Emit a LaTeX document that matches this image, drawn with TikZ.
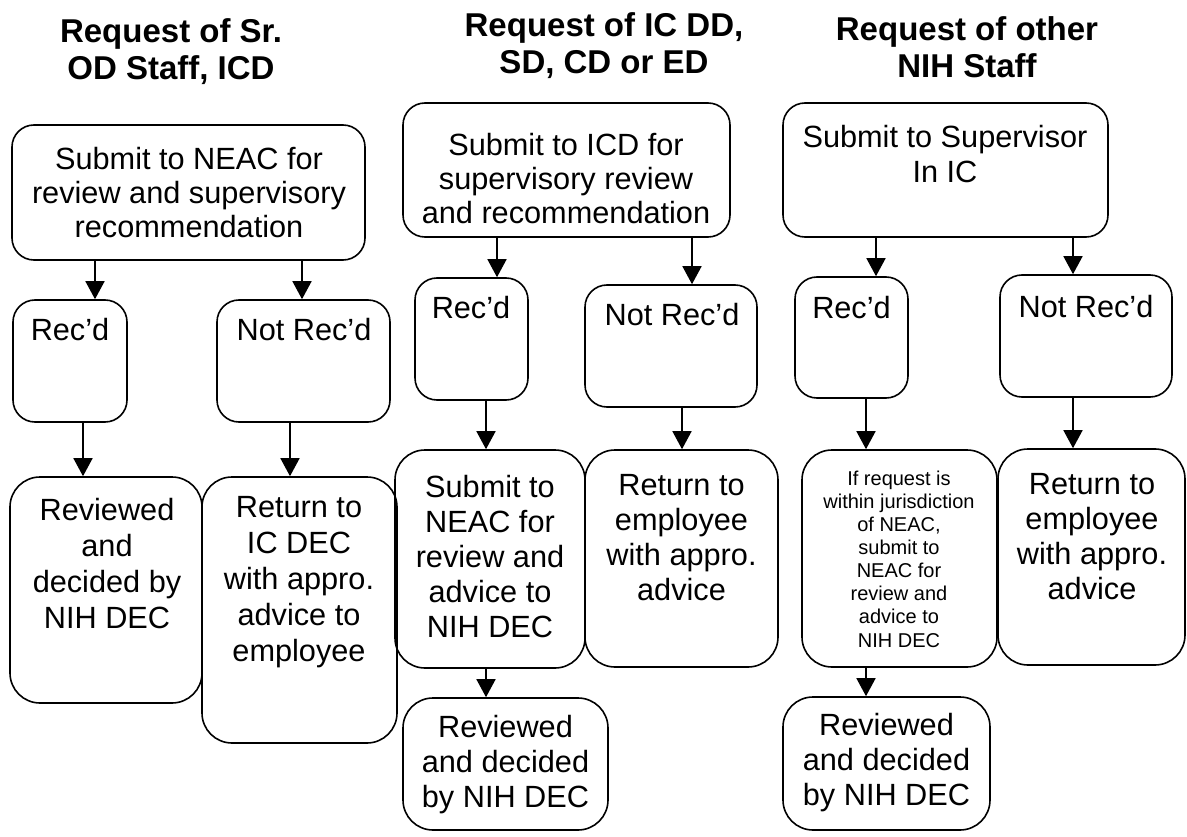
\documentclass[tikz,border=0pt]{standalone}
\usepackage{fontspec}
\setmainfont{Liberation Sans}
\usetikzlibrary{arrows.meta}
\newcommand{\mybox}[6][22]{\node[box, rounded corners=#1pt, minimum width={(#5-#3)*1pt}, minimum height={(#6-#4)*1pt}] (#2) at ({(#3+#5)/2},{(#4+#6)/2}) {};}
\begin{document}
\begin{tikzpicture}[x=1pt,y=-1pt,
  box/.style={draw, line width=1.6pt, inner sep=0pt, rectangle},
  txt/.style={align=center, inner sep=0pt, font=\fontsize{30.7}{35}\selectfont},
  txtb/.style={align=center, inner sep=0pt, font=\fontsize{30.7}{36}\selectfont},
  txtt/.style={align=center, inner sep=0pt, font=\fontsize{30.7}{34}\selectfont},
  small/.style={align=center, inner sep=0pt, font=\fontsize{20}{23.1}\selectfont},
  head/.style={align=center, inner sep=0pt, font=\bfseries\fontsize{33}{37}\selectfont},
  arr/.style={line width=1.6pt, -{Triangle[width=19pt,length=18pt]}}]
\useasboundingbox (0,0) rectangle (1187,837);

% headers
\node[head] (H1) at (171,51.5) {Request of Sr.\\OD Staff, ICD};
\node[head] (H2) at (604,45.5) {Request of IC DD,\\SD, CD or ED};
\node[head] (H3) at (967,47.5) {Request of other\\NIH Staff};

% column 1
\mybox{T1}{12}{125}{365}{260}
\mybox{R1}{13}{300}{127}{422}
\mybox{N1}{217}{300}{390}{422}
\mybox[30]{V1}{10}{477}{202}{703}
\mybox[30]{E1}{202}{477}{397}{743}

% column 2
\mybox{T2}{403}{103}{730}{237}
\mybox{R2}{415}{278}{528}{400}
\mybox{N2}{585}{285}{757}{407}
\mybox[30]{S2}{395}{450}{585}{668}
\mybox[30]{E2}{585}{450}{778}{667}
\mybox[30]{V2}{403}{698}{608}{830}

% column 3
\mybox{T3}{783}{103}{1108}{237}
\mybox{R3}{795}{277}{908}{398}
\mybox{N3}{1000}{275}{1172}{397}
\mybox[30]{F3}{802}{450}{997}{667}
\mybox[30]{E3}{998}{449}{1185}{665}
\mybox[30]{V3}{783}{697}{990}{830}

% texts
\node[txtt] (T1t) at (189,192.5) {Submit to NEAC for\\review and supervisory\\recommendation};
\node[txt] (R1t) at (70,330) {Rec'd};
\node[txt] (N1t) at (304,330) {Not Rec'd};
\node[txtb] (V1t) at (107,564) {Reviewed\\and\\decided by\\NIH DEC};
\node[txtb] (E1t) at (299,582) {Return to\\IC DEC\\with appro.\\advice to\\employee};

\node[txtt] (T2t) at (566,179) {Submit to ICD for\\supervisory review\\and recommendation};
\node[txt] (R2t) at (471,308) {Rec'd};
\node[txt] (N2t) at (672,315) {Not Rec'd};
\node[txt] (S2t) at (490,557) {Submit to\\NEAC for\\review and\\advice to\\NIH DEC};
\node[txt] (E2t) at (681.5,537.5) {Return to\\employee\\with appro.\\advice};
\node[txt] (V2t) at (505.5,765) {Reviewed\\and decided\\by NIH DEC};

\node[txt] (T3t) at (945,154.5) {Submit to Supervisor\\In IC};
\node[txt] (R3t) at (851.5,308) {Rec'd};
\node[txt] (N3t) at (1086,307) {Not Rec'd};
\node[small] (F3t) at (899,559) {If request is\\within jurisdiction\\of NEAC,\\submit to\\NEAC for\\review and\\advice to\\NIH DEC};
\node[txt] (E3t) at (1092,536.5) {Return to\\employee\\with appro.\\advice};
\node[txt] (V3t) at (886.5,762.5) {Reviewed\\and decided\\by NIH DEC};

% arrows
\draw[arr] (T1.south -| 95,0) -- (R1.north -| 95,0);
\draw[arr] (T1.south -| 302,0) -- (N1.north -| 302,0);
\draw[arr] (R1.south -| 83,0) -- (V1.north -| 83,0);
\draw[arr] (N1.south -| 290,0) -- (E1.north -| 290,0);

\draw[arr] (T2.south -| 497,0) -- (R2.north -| 497,0);
\draw[arr] (T2.south -| 692,0) -- (N2.north -| 692,0);
\draw[arr] (R2.south -| 486,0) -- (S2.north -| 486,0);
\draw[arr] (N2.south -| 682,0) -- (E2.north -| 682,0);
\draw[arr] (S2.south -| 486,0) -- (V2.north -| 486,0);

\draw[arr] (T3.south -| 876,0) -- (R3.north -| 876,0);
\draw[arr] (T3.south -| 1073,0) -- (N3.north -| 1073,0);
\draw[arr] (R3.south -| 866,0) -- (F3.north -| 866,0);
\draw[arr] (N3.south -| 1073,0) -- (E3.north -| 1073,0);
\draw[arr] (F3.south -| 866,0) -- (V3.north -| 866,0);
\end{tikzpicture}
\end{document}
